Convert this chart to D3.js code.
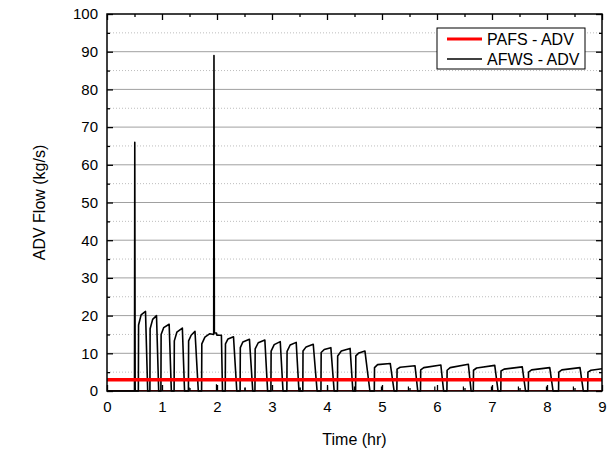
<!DOCTYPE html>
<html>
<head>
<meta charset="utf-8">
<script src="https://cdn.jsdelivr.net/npm/d3@7"></script>
<style>
  body { margin: 0; background: #fff; }
  svg { font-family: "Liberation Sans", Arial, sans-serif; }
</style>
</head>
<body>
<svg id="chart" width="615" height="452"></svg>
<script>
// tick labels
var xTicks = [0, 1, 2, 3, 4, 5, 6, 7, 8, 9];
var yTicks = [0, 10, 20, 30, 40, 50, 60, 70, 80, 90, 100];

// PAFS - ADV (roughly flat)
var pafsTime = [0, 9];
var pafsFlow = [3.0, 3.0];

// AFWS - ADV : two spikes, then on/off cycles
var spikeTime = [0.500, 0.505, 0.512];
var spikeFlow = [0, 66, 0];
var spike2Time = [1.940, 1.945, 1.952];
var spike2Flow = [15.0, 89, 15.4];

var cycleStart     = [0.57, 0.78, 0.98, 1.22, 1.48, 1.72, 2.15, 2.42, 2.69, 2.98, 3.27, 3.56, 3.89, 4.19, 4.52, 4.86, 5.27, 5.70, 6.18, 6.66, 7.16, 7.66, 8.21, 8.74];
var cycleStartFlow = [17.5, 16.5, 15.0, 13.3, 13.3, 12.5, 12.5, 11.5, 11.2, 10.6, 10.5, 10.6, 10.2, 9.3, 9.3, 6.2, 5.8, 5.6, 5.5, 5.5, 5.3, 5.0, 5.0, 5.0];
var cycleMidTime   = [0.62, 0.83, 1.03, 1.27, 1.53, 1.78, 2.20, 2.47, 2.75, 3.04, 3.33, 3.62, 3.95, 4.26, 4.58, 4.92, 5.33, 5.76, 6.24, 6.72, 7.22, 7.72, 8.27, 8.80];
var cycleMidFlow   = [20.2, 19.0, 16.8, 15.6, 14.8, 14.3, 13.8, 13.0, 12.8, 12.3, 12.2, 11.7, 11.0, 10.6, 10.1, 7.0, 6.3, 6.2, 6.2, 6.1, 5.8, 5.6, 5.6, 5.5];
var cyclePeakTime  = [0.70, 0.90, 1.13, 1.37, 1.60, 1.87, 2.30, 2.59, 2.87, 3.15, 3.44, 3.75, 4.07, 4.42, 4.69, 5.15, 5.60, 6.07, 6.57, 7.05, 7.55, 8.05, 8.60, 9.00];
var cyclePeakFlow  = [21.1, 20.0, 17.7, 16.7, 15.8, 15.2, 14.4, 13.7, 13.5, 13.1, 12.9, 12.4, 11.5, 11.3, 10.6, 7.3, 6.7, 6.9, 7.1, 6.8, 6.4, 6.2, 6.2, 5.9];
var cycleEnd       = [0.74, 0.94, 1.17, 1.41, 1.66, 2.10, 2.36, 2.65, 2.92, 3.20, 3.49, 3.82, 4.13, 4.47, 4.78, 5.22, 5.65, 6.12, 6.62, 7.11, 7.61, 8.11, 8.66, null];

// small blips near zero
var blipTime = [1.49, 1.99, 2.51, 3.51, 4.01, 4.50, 4.99, 5.48, 5.96, 6.48, 6.99, 7.48, 7.99, 8.48];
var blipFlow = [1.0, 1.8, 1.0, 1.0, 1.2, 1.2, 1.2, 1.2, 1.2, 1.2, 1.2, 1.2, 1.2, 1.2];

var margin = {top: 14, right: 13, bottom: 61, left: 107};
var width = 615 - margin.left - margin.right;
var height = 452 - margin.top - margin.bottom;

var svg = d3.select("#chart");
var g = svg.append("g").attr("transform", "translate(" + margin.left + "," + margin.top + ")");

var x = d3.scaleLinear().domain([0, 9]).range([0, width]);
var y = d3.scaleLinear().domain([0, 100]).range([height, 0]);

// build AFWS polyline
var afws = [[0, 0]];
spikeTime.forEach(function(t, i){ afws.push([t, spikeFlow[i]]); });
for (var i = 0; i < cycleStart.length; i++){
  afws.push([cycleStart[i], 0]);
  afws.push([cycleStart[i] + 0.004, cycleStartFlow[i]]);
  afws.push([cycleMidTime[i], cycleMidFlow[i]]);
  afws.push([cyclePeakTime[i], cyclePeakFlow[i]]);
  if (i === 5){
    spike2Time.forEach(function(t, k){ afws.push([t, spike2Flow[k]]); });
    afws.push([1.99, 15.4]);
    afws.push([2.0, 14.8]);
    afws.push([2.08, 14.8]);
  }
  if (cycleEnd[i] !== null) afws.push([cycleEnd[i], 0]);
}

var yMinor = yTicks.slice(0, -1).map(function(v){ return v + 5; });
var xMinor = xTicks.slice(0, -1).map(function(v){ return v + 0.5; });

// minor dotted grid
g.append("g").selectAll("line")
  .data(yMinor)
  .enter().append("line")
  .attr("x1", 0).attr("x2", width)
  .attr("y1", function(d){ return y(d); }).attr("y2", function(d){ return y(d); })
  .attr("stroke", "#bdbdbd").attr("stroke-width", 1).attr("stroke-dasharray", "1,2");

// major grid
g.append("g").selectAll("line")
  .data(yTicks.slice(1, -1))
  .enter().append("line")
  .attr("x1", 0).attr("x2", width)
  .attr("y1", function(d){ return y(d); }).attr("y2", function(d){ return y(d); })
  .attr("stroke", "#a0a0a0").attr("stroke-width", 1);

// red zero line
g.append("line")
  .attr("x1", x(0)).attr("x2", x(9))
  .attr("y1", y(0) - 0.5).attr("y2", y(0) - 0.5)
  .attr("stroke", "#e00000").attr("stroke-width", 1.2);

var line = d3.line()
  .x(function(d){ return x(d[0]); })
  .y(function(d){ return y(d[1]); });

g.append("path")
  .datum(afws)
  .attr("fill", "none").attr("stroke", "#000").attr("stroke-width", 1.6)
  .attr("stroke-linejoin", "round")
  .attr("d", line);

g.append("g").selectAll("line")
  .data(blipTime)
  .enter().append("line")
  .attr("x1", function(d){ return x(d); }).attr("x2", function(d){ return x(d); })
  .attr("y1", y(0)).attr("y2", function(d, i){ return y(blipFlow[i]); })
  .attr("stroke", "#000").attr("stroke-width", 1.2);

g.append("path")
  .datum(pafsTime.map(function(t, i){ return [t, pafsFlow[i]]; }))
  .attr("fill", "none").attr("stroke", "#ff0000").attr("stroke-width", 3.4)
  .attr("d", line);

// axes with inward ticks
function axisStyle(sel){
  sel.select(".domain").remove();
  sel.selectAll(".tick line").attr("stroke", "#000").attr("stroke-width", 1.3);
  sel.selectAll("text").attr("font-size", "15px").attr("fill", "#000")
    .attr("font-family", "'Liberation Sans', Arial, sans-serif");
}

var axBottom = g.append("g").attr("transform", "translate(0," + height + ")")
  .call(d3.axisBottom(x).tickValues(xTicks).tickFormat(d3.format("d")).tickSizeInner(-6).tickSizeOuter(0).tickPadding(10));
axisStyle(axBottom);
var axBottomMinor = g.append("g").attr("transform", "translate(0," + height + ")")
  .call(d3.axisBottom(x).tickValues(xMinor).tickFormat("").tickSizeInner(-3).tickSizeOuter(0));
axisStyle(axBottomMinor);

var axTop = g.append("g")
  .call(d3.axisTop(x).tickValues(xTicks).tickFormat("").tickSizeInner(-6).tickSizeOuter(0));
axisStyle(axTop);
var axTopMinor = g.append("g")
  .call(d3.axisTop(x).tickValues(xMinor).tickFormat("").tickSizeInner(-3).tickSizeOuter(0));
axisStyle(axTopMinor);

var axLeft = g.append("g")
  .call(d3.axisLeft(y).tickValues(yTicks).tickFormat(d3.format("d")).tickSizeInner(-6).tickSizeOuter(0).tickPadding(9));
axisStyle(axLeft);
var axLeftMinor = g.append("g")
  .call(d3.axisLeft(y).tickValues(yMinor).tickFormat("").tickSizeInner(-3).tickSizeOuter(0));
axisStyle(axLeftMinor);

var axRight = g.append("g").attr("transform", "translate(" + width + ",0)")
  .call(d3.axisRight(y).tickValues(yTicks).tickFormat("").tickSizeInner(-6).tickSizeOuter(0));
axisStyle(axRight);
var axRightMinor = g.append("g").attr("transform", "translate(" + width + ",0)")
  .call(d3.axisRight(y).tickValues(yMinor).tickFormat("").tickSizeInner(-3).tickSizeOuter(0));
axisStyle(axRightMinor);

// frame
g.append("rect").attr("x", 0).attr("y", 0).attr("width", width).attr("height", height)
  .attr("fill", "none").attr("stroke", "#000").attr("stroke-width", 1.5);

// axis titles
svg.append("text")
  .attr("x", margin.left + width / 2).attr("y", 445)
  .attr("text-anchor", "middle").attr("font-size", "16px")
  .text("Time (hr)");

svg.append("text")
  .attr("transform", "translate(45," + (margin.top + height / 2) + ") rotate(-90)")
  .attr("text-anchor", "middle").attr("font-size", "16px")
  .text("ADV Flow (kg/s)");

// legend
var legendNames = ["PAFS - ADV", "AFWS - ADV"];
var legendColors = ["#ff0000", "#000"];
var legendWidths = [3, 1.4];
var lg = g.append("g").attr("transform", "translate(" + x(6.0) + ",14)");
lg.append("rect").attr("x", 0).attr("y", 0).attr("width", 148).attr("height", 41)
  .attr("fill", "#fff").attr("stroke", "#000").attr("stroke-width", 1);
legendNames.forEach(function(n, i){
  lg.append("line").attr("x1", 10).attr("x2", 45)
    .attr("y1", 11 + i * 20).attr("y2", 11 + i * 20)
    .attr("stroke", legendColors[i]).attr("stroke-width", legendWidths[i]);
  lg.append("text").attr("x", 50).attr("y", 16.5 + i * 20)
    .attr("font-size", "16px").text(n);
});
</script>
</body>
</html>
